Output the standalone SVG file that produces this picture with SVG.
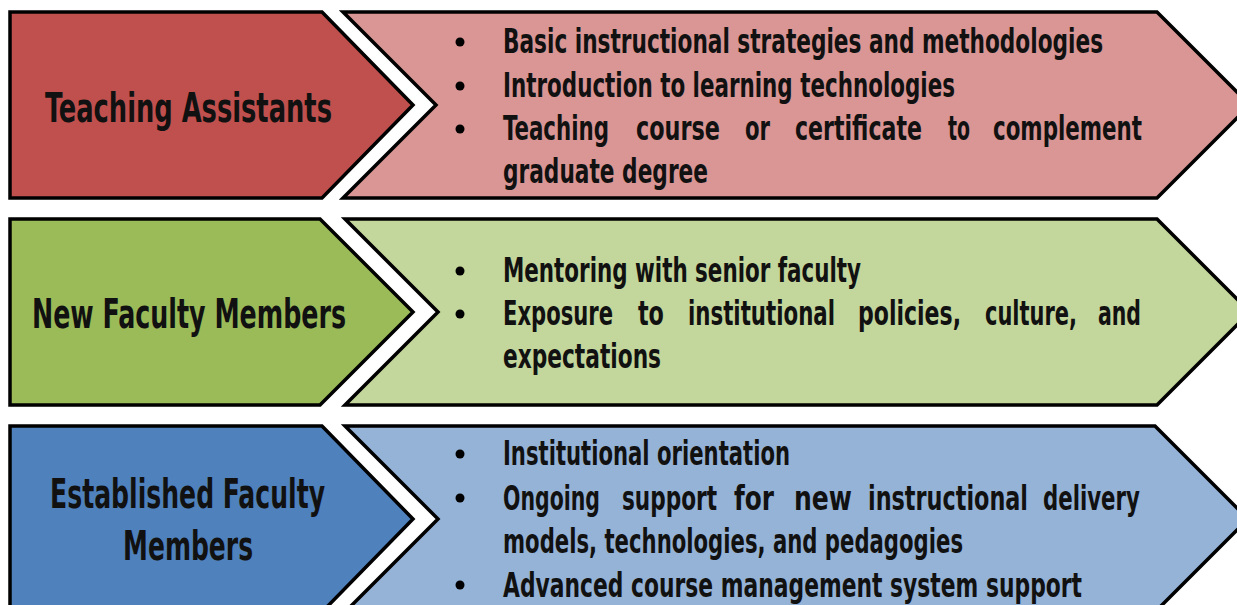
<svg xmlns="http://www.w3.org/2000/svg" width="1237" height="605" viewBox="0 0 1237 605">
<style>
.sh{stroke:#000;stroke-width:3.5;stroke-linejoin:miter}
.r1{fill:#C0504D}.r2{fill:#D99694}
.g1{fill:#9BBB59}.g2{fill:#C3D69B}
.b1{fill:#4F81BD}.b2{fill:#95B3D7}
.t{font-family:"DejaVu Sans Condensed","DejaVu Sans",sans-serif;font-weight:bold;fill:#111;font-size:33px}
.lb{font-family:"DejaVu Sans Condensed","DejaVu Sans",sans-serif;font-weight:bold;fill:#111;font-size:40px}
.dot{fill:#000}
</style>
<rect width="1237" height="605" fill="#fff"/>
<g id="row1-label">
<path class="sh r1" d="M10,12 L322,12 L413,105 L322,198 L10,198 Z"/>
<text class="lb" transform="scale(0.66 1)" x="68.2" y="122" textLength="434.8" lengthAdjust="spacingAndGlyphs">Teaching  Assistants</text>
</g>
<g id="row1-content">
<path class="sh r2" d="M343,12 L1157,12 L1250,105 L1157,198 L343,198 L436,105 Z"/>
<circle class="dot" cx="460" cy="42" r="4.5"/>
<circle class="dot" cx="460" cy="86" r="4.5"/>
<circle class="dot" cx="460" cy="129" r="4.5"/>
<g transform="scale(0.68 1)">
<text class="t" x="739.7" y="53" textLength="882.4" lengthAdjust="spacingAndGlyphs">Basic instructional strategies and methodologies</text>
<text class="t" x="739.7" y="97" textLength="664.7" lengthAdjust="spacingAndGlyphs">Introduction to learning technologies</text>
<text class="t" y="140"><tspan x="739.7" textLength="155.9" lengthAdjust="spacingAndGlyphs">Teaching</tspan> <tspan x="935.3" textLength="123.5" lengthAdjust="spacingAndGlyphs">course</tspan> <tspan x="1095.6" textLength="36.8" lengthAdjust="spacingAndGlyphs">or</tspan> <tspan x="1169.1" textLength="186.8" lengthAdjust="spacingAndGlyphs">certificate</tspan> <tspan x="1394.1" textLength="32.4" lengthAdjust="spacingAndGlyphs">to</tspan> <tspan x="1460.3" textLength="219.1" lengthAdjust="spacingAndGlyphs">complement</tspan></text>
<text class="t" x="739.7" y="183" textLength="301.5" lengthAdjust="spacingAndGlyphs">graduate degree</text>
</g>
</g>
<g id="row2-label">
<path class="sh g1" d="M10,219 L320,219 L413,312 L320,405 L10,405 Z"/>
<text class="lb" transform="scale(0.66 1)" x="48.5" y="328" textLength="475.8" lengthAdjust="spacingAndGlyphs">New Faculty  Members</text>
</g>
<g id="row2-content">
<path class="sh g2" d="M345,219 L1157,219 L1250,312 L1157,405 L345,405 L438,312 Z"/>
<circle class="dot" cx="460" cy="271" r="4.5"/>
<circle class="dot" cx="460" cy="314" r="4.5"/>
<g transform="scale(0.68 1)">
<text class="t" x="739.7" y="282" textLength="526.5" lengthAdjust="spacingAndGlyphs">Mentoring with senior faculty</text>
<text class="t" y="325"><tspan x="739.7" textLength="161.8" lengthAdjust="spacingAndGlyphs">Exposure</tspan> <tspan x="938.2" textLength="38.2" lengthAdjust="spacingAndGlyphs">to</tspan> <tspan x="1011.8" textLength="216.2" lengthAdjust="spacingAndGlyphs">institutional</tspan> <tspan x="1261.8" textLength="151.5" lengthAdjust="spacingAndGlyphs">policies,</tspan> <tspan x="1448.5" textLength="135.3" lengthAdjust="spacingAndGlyphs">culture,</tspan> <tspan x="1614.7" textLength="63.2" lengthAdjust="spacingAndGlyphs">and</tspan></text>
<text class="t" x="739.7" y="368" textLength="232.4" lengthAdjust="spacingAndGlyphs">expectations</text>
</g>
</g>
<g id="row3-label">
<path class="sh b1" d="M10,426 L322,426 L413,519 L322,612 L10,612 Z"/>
<text class="lb" transform="scale(0.66 1)" x="75.8" y="508" textLength="416.7" lengthAdjust="spacingAndGlyphs">Established Faculty</text>
<text class="lb" transform="scale(0.66 1)" x="186.4" y="560" textLength="197" lengthAdjust="spacingAndGlyphs">Members</text>
</g>
<g id="row3-content">
<path class="sh b2" d="M345,426 L1155,426 L1248,519 L1155,612 L345,612 L438,519 Z"/>
<circle class="dot" cx="460" cy="454" r="4.5"/>
<circle class="dot" cx="460" cy="498" r="4.5"/>
<circle class="dot" cx="460" cy="585" r="4.5"/>
<g transform="scale(0.68 1)">
<text class="t" x="739.7" y="465" textLength="422.1" lengthAdjust="spacingAndGlyphs">Institutional orientation</text>
<text class="t" y="510"><tspan x="739.7" textLength="142.6" lengthAdjust="spacingAndGlyphs">Ongoing</tspan> <tspan x="914.7" textLength="139.7" lengthAdjust="spacingAndGlyphs">support</tspan> <tspan x="1079.4" textLength="58.8" lengthAdjust="spacingAndGlyphs">for</tspan> <tspan x="1167.6" textLength="85.3" lengthAdjust="spacingAndGlyphs">new</tspan> <tspan x="1276.5" textLength="235.3" lengthAdjust="spacingAndGlyphs">instructional</tspan> <tspan x="1533.8" textLength="142.6" lengthAdjust="spacingAndGlyphs">delivery</tspan></text>
<text class="t" x="739.7" y="553" textLength="676.5" lengthAdjust="spacingAndGlyphs">models, technologies, and pedagogies</text>
<text class="t" x="739.7" y="597" textLength="851.5" lengthAdjust="spacingAndGlyphs">Advanced course management system support</text>
</g>
</g>
<g id="connectors"/>
</svg>
